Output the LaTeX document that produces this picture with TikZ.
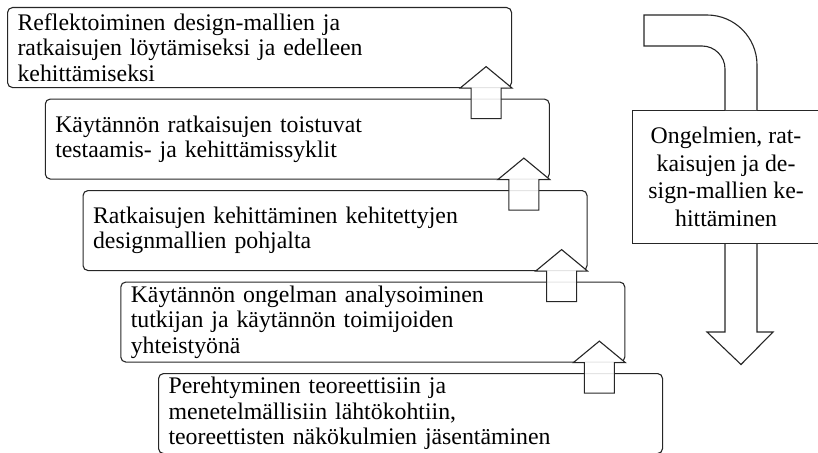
\documentclass[tikz,border=0pt]{standalone}
\usepackage{fontspec}
\setmainfont{Liberation Serif}
\usetikzlibrary{calc}
\tikzset{
  stage/.style={draw=black!85, line width=1.1pt, rounded corners=5pt, anchor=north west,
    minimum width=504pt, text width=484pt, inner xsep=10pt, inner ysep=0pt,
    minimum height=80pt, align=left, font=\fontsize{23.8}{25.3}\selectfont},
  phase/.style={draw=black!85, line width=1.1pt, anchor=north west, minimum width=187pt,
    minimum height=133pt, inner sep=0pt, align=center, font=\fontsize{23.8}{27.5}\selectfont},
  blockarrow/.style={draw=black!85, line width=1.1pt, fill=white, fill opacity=0.88, line join=miter},
  bigarrow/.style={draw=black!85, line width=1.1pt, fill=white, line join=miter}
}
\newcommand\stepuparrow[1]{%
  \draw[blockarrow] ($(#1.south east)+(-11,30.5)$) -- ($(#1.south east)+(-11,0)$)
    -- (#1.south east) -- ($(#1.south east)+(-26,-21.5)$) -- ($(#1.south east)+(-52,0)$)
    -- ($(#1.south east)+(-41,0)$) -- ($(#1.south east)+(-41,30.5)$) -- cycle;}
\begin{document}
\begin{tikzpicture}[x=1pt,y=-1pt]
\useasboundingbox (0,0) rectangle (818,452);
\node[stage] (b1) at (7,7) {Reflektoiminen design-mallien ja\\ratkaisujen löytämiseksi ja edelleen\\kehittämiseksi};
\node[stage] (b2) at (44.75,98.5) {Käytännön ratkaisujen toistuvat\\testaamis- ja kehittämissyklit};
\node[stage] (b3) at (82.5,190) {Ratkaisujen kehittäminen kehitettyjen\\designmallien pohjalta};
\node[stage] (b4) at (120.25,281.5) {Käytännön ongelman analysoiminen\\tutkijan ja käytännön toimijoiden\\yhteistyönä};
\node[stage] (b5) at (158,373) {Perehtyminen teoreettisiin ja\\menetelmällisiin lähtökohtiin,\\teoreettisten näkökulmien jäsentäminen};
\stepuparrow{b1}
\stepuparrow{b2}
\stepuparrow{b3}
\stepuparrow{b4}
% right-hand phase box with bent and down arrows
\node[phase] (r) at (632,110) {Ongelmien, rat-\\kaisujen ja de-\\sign-mallien ke-\\hittäminen};
\draw[bigarrow] (725,110) -- (725,69) .. controls (725,56.3) and (714.7,46) .. (702,46)
  -- (644,46) -- (644,15) -- (707,15) .. controls (734.6,15) and (757,37.4) .. (757,65)
  -- (757,110);
\draw[bigarrow] (r.south -| 725,0) -- (725,332) -- (707,332) -- (741,364.5) -- (773,332)
  -- (757,332) -- (r.south -| 757,0);
\end{tikzpicture}
\end{document}
